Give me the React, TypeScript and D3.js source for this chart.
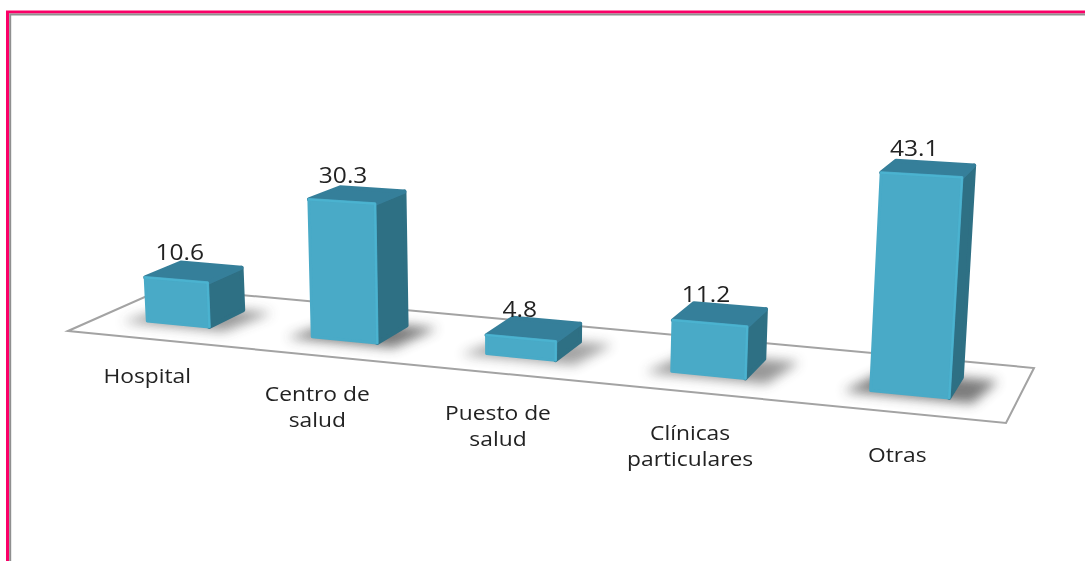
import React from "react";
import * as d3 from "d3";

const categories = ["Hospital", "Centro de|salud", "Puesto de|salud", "Clínicas|particulares", "Otras"];
const values = [10.6, 30.3, 4.8, 11.2, 43.1];
const valueLabels = ["10.6", "30.3", "4.8", "11.2", "43.1"];

const W = 1085, H = 561;
// floor quad: front-left, front-right, back-right, back-left
const floor: [number, number][] = [[68, 331], [1006, 423], [1034, 368], [165, 288]];

function homography(q: [number, number][]) {
  const [[x0, y0], [x1, y1], [x2, y2], [x3, y3]] = q;
  const dx1 = x1 - x2, dx2 = x3 - x2, sx = x0 - x1 + x2 - x3;
  const dy1 = y1 - y2, dy2 = y3 - y2, sy = y0 - y1 + y2 - y3;
  const den = dx1 * dy2 - dx2 * dy1;
  const g = (sx * dy2 - dx2 * sy) / den;
  const h = (dx1 * sy - sx * dy1) / den;
  const a = x1 - x0 + g * x1, b = x3 - x0 + h * x3;
  const d = y1 - y0 + g * y1, e = y3 - y0 + h * y3;
  return (u: number, v: number): [number, number] => {
    const w = g * u + h * v + 1;
    return [(a * u + b * v + x0) / w, (d * u + e * v + y0) / w];
  };
}
const toFloor = homography(floor);

const xBand = d3.scaleBand<string>().domain(categories).range([-0.012, 0.988]).paddingInner(0.62).paddingOuter(0.31);
// the reference's bars sit slightly off an exact perspective grid
const warp = d3.scaleLinear().domain([0.05, 0.3, 0.5, 0.7, 0.95]).range([0.006, -0.002, -0.004, -0.002, 0.009]);
const uAt = (u: number) => u + warp(u);
const depth = { front: 0.32, back: 0.7 };
const baseValue = 1;
const unitHeight = d3.scaleLinear().domain([0, 1]).range([4.5, 5.3]);
const lean = d3.scaleLinear().domain([0, 1]).range([-0.055, 0.066]);
const depthFade = d3.scaleLinear().domain([0, 1]).range([1.03, 0.93]);

function project(uRaw: number, d: number, value: number): [number, number] {
  const u = uAt(uRaw);
  const [x, y] = toFloor(u, d);
  const h = value === 0 ? 0 : (value - baseValue) * unitHeight(u) * depthFade(d);
  return [x + lean(u) * h, y - h];
}
const path = d3.line<[number, number]>();
const closed = (pts: [number, number][]) => path(pts) + "Z";

const FONT = "'Open Sans', sans-serif";

export default function App() {
  return (
    <svg width={W} height={H} viewBox={`0 0 ${W} ${H}`} style={{ position: "fixed", left: 0, top: 0, background: "#fff" }}>
      <defs>
        <filter id="sh" x="-40%" y="-100%" width="180%" height="300%"><feGaussianBlur stdDeviation="6" /></filter>
        <filter id="soft" x="-5%" y="-5%" width="110%" height="110%"><feGaussianBlur stdDeviation="0.6" /></filter>
        <filter id="txt" x="-5%" y="-20%" width="110%" height="140%"><feGaussianBlur stdDeviation="0.3" /></filter>
      </defs>
      <g fill="none">
        <path d={`M7.5,${H}V12H${W}`} stroke="#fb0068" strokeWidth={3} />
        <path d={`M10.2,${H}V14.5H${W}`} stroke="#8f8f8f" strokeWidth={2} />
      </g>
      <path d={closed(floor)} fill="none" stroke="#a3a3a3" strokeWidth={2} filter="url(#txt)" />
      {categories.map((c, i) => {
        const u0 = xBand(c)!, u1 = u0 + xBand.bandwidth();
        const v = values[i];
        const e = 0.012;
        const shadow = closed([
          project(u0 - 2 * e, depth.front - 0.06, 0),
          project(u1 + 2 * e, depth.front - 0.06, 0),
          project(u1 + 3 * e, depth.back, 0),
          project(u0, depth.back, 0),
        ]);
        return <path key={c} d={shadow} fill="#3c3c3c" opacity={Math.min(0.68, 0.42 + v / 100)} filter="url(#sh)" />;
      })}
      {categories.map((c, i) => {
        const u0 = xBand(c)!, u1 = u0 + xBand.bandwidth();
        const v = values[i];
        const fbl = project(u0, depth.front, 0), fbr = project(u1, depth.front, 0), bbr = project(u1, depth.back, 0);
        const ftl = project(u0, depth.front, v), ftr = project(u1, depth.front, v);
        const btr = project(u1, depth.back, v), btl = project(u0, depth.back, v);
        return (
          <g key={c} filter="url(#soft)" strokeLinejoin="round" strokeLinecap="round">
            <path d={closed([fbr, bbr, btr, ftr])} fill="#2f6f84" stroke="#2f6f84" strokeWidth={4} />
            <path d={closed([ftl, ftr, btr, btl])} fill="#367f9a" stroke="#367f9a" strokeWidth={4} />
            <path d={closed([fbl, fbr, ftr, ftl])} fill="#48aac7" stroke="#48aac7" strokeWidth={3} />
            <path d={path([ftl, ftr, fbr])} fill="none" stroke="#4cb3d0" strokeWidth={2} />
          </g>
        );
      })}
      <g fontFamily={FONT} fontSize={21} fill="#222" textAnchor="middle" filter="url(#txt)">
        {categories.map((c, i) => {
          const u0 = xBand(c)!, u1 = u0 + xBand.bandwidth();
          const t = [project(u0, depth.front, values[i]), project(u1, depth.front, values[i]), project(u1, depth.back, values[i]), project(u0, depth.back, values[i])];
          const cx = d3.mean(t, (p) => p[0])!, cy = d3.mean(t, (p) => p[1])!;
          return <text key={c} transform={`translate(${cx - 14},${cy - 13}) scale(1.17,1)`}>{valueLabels[i]}</text>;
        })}
      </g>
      <g fontFamily={FONT} fontSize={20} fill="#222" textAnchor="middle" filter="url(#txt)">
        {categories.map((c) => {
          const uc = xBand(c)! + xBand.bandwidth() / 2;
          const lines = c.split("|");
          const [x] = toFloor(uAt(uc), 0);
          const [, y] = toFloor(uAt(uc), -0.5);
          return (
            <text key={c} transform={`translate(${x},${y + 19}) scale(1.14,1)`}>
              {lines.map((l, j) => <tspan key={l} x={0} dy={j === 0 ? 0 : 26}>{l}</tspan>)}
            </text>
          );
        })}
      </g>
    </svg>
  );
}
